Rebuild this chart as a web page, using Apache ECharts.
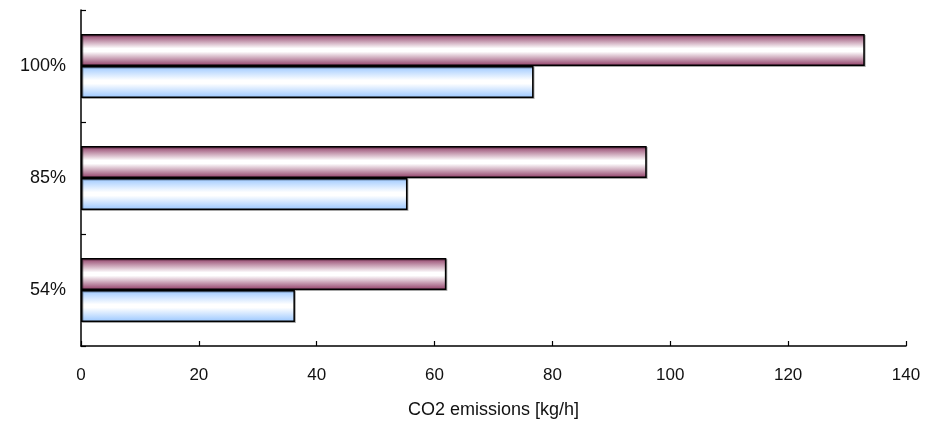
<!DOCTYPE html>
<html>
<head>
<meta charset="utf-8">
<script src="https://cdn.jsdelivr.net/npm/echarts@6/dist/echarts.min.js"></script>
<style>html,body{margin:0;padding:0;background:#fff;}#c{width:940px;height:424px;}</style>
</head>
<body>
<div id="c"></div>
<script>
const categories = ['54%', '85%', '100%'];
const blueValues = [36.3, 55.4, 76.8];
const maroonValues = [62.0, 96.0, 133.0];
const xTicks = {min: 0, max: 140, interval: 20};
const xName = 'CO2 emissions [kg/h]';

function grad(edge) {
  return new echarts.graphic.LinearGradient(0, 0, 0, 1, [
    {offset: 0, color: edge},
    {offset: 0.45, color: '#ffffff'},
    {offset: 0.55, color: '#ffffff'},
    {offset: 1, color: edge}
  ]);
}
const font = 'Liberation Sans, Arial, sans-serif';
const chart = echarts.init(document.getElementById('c'), null, {renderer: 'canvas'});
chart.setOption({
  animation: false,
  grid: {left: 81, right: 34, top: 10, bottom: 72, containLabel: false},
  xAxis: {
    type: 'value', min: xTicks.min, max: xTicks.max, interval: xTicks.interval,
    name: xName, nameLocation: 'middle', nameGap: 55,
    nameTextStyle: {fontFamily: font, fontSize: 18, color: '#111'},
    axisLine: {show: true, lineStyle: {color: '#000', width: 1.5}},
    axisTick: {show: true, inside: true, length: 5, lineStyle: {color: '#000', width: 1.2}},
    axisLabel: {fontFamily: font, fontSize: 17, color: '#111', margin: 21},
    splitLine: {show: false}
  },
  yAxis: {
    type: 'category', data: categories,
    axisLine: {show: true, lineStyle: {color: '#000', width: 1.5}},
    axisTick: {show: true, inside: true, length: 5, alignWithLabel: false, lineStyle: {color: '#000', width: 1.2}},
    axisLabel: {fontFamily: font, fontSize: 18, color: '#111', margin: 15},
    splitLine: {show: false}
  },
  series: [
    {
      type: 'bar', data: maroonValues, barGap: '0%', barCategoryGap: '43%',
      itemStyle: {color: grad('#8e3a64'), borderColor: '#000', borderWidth: 1.5,
        shadowColor: 'rgba(0,0,0,0.3)', shadowOffsetX: 1, shadowOffsetY: 1, shadowBlur: 0}
    },
    {
      type: 'bar', data: blueValues, barGap: '0%', barCategoryGap: '43%',
      itemStyle: {color: grad('#99c6ff'), borderColor: '#000', borderWidth: 1.5,
        shadowColor: 'rgba(0,0,0,0.3)', shadowOffsetX: 1, shadowOffsetY: 1, shadowBlur: 0}
    }
  ]
});
</script>
</body>
</html>
